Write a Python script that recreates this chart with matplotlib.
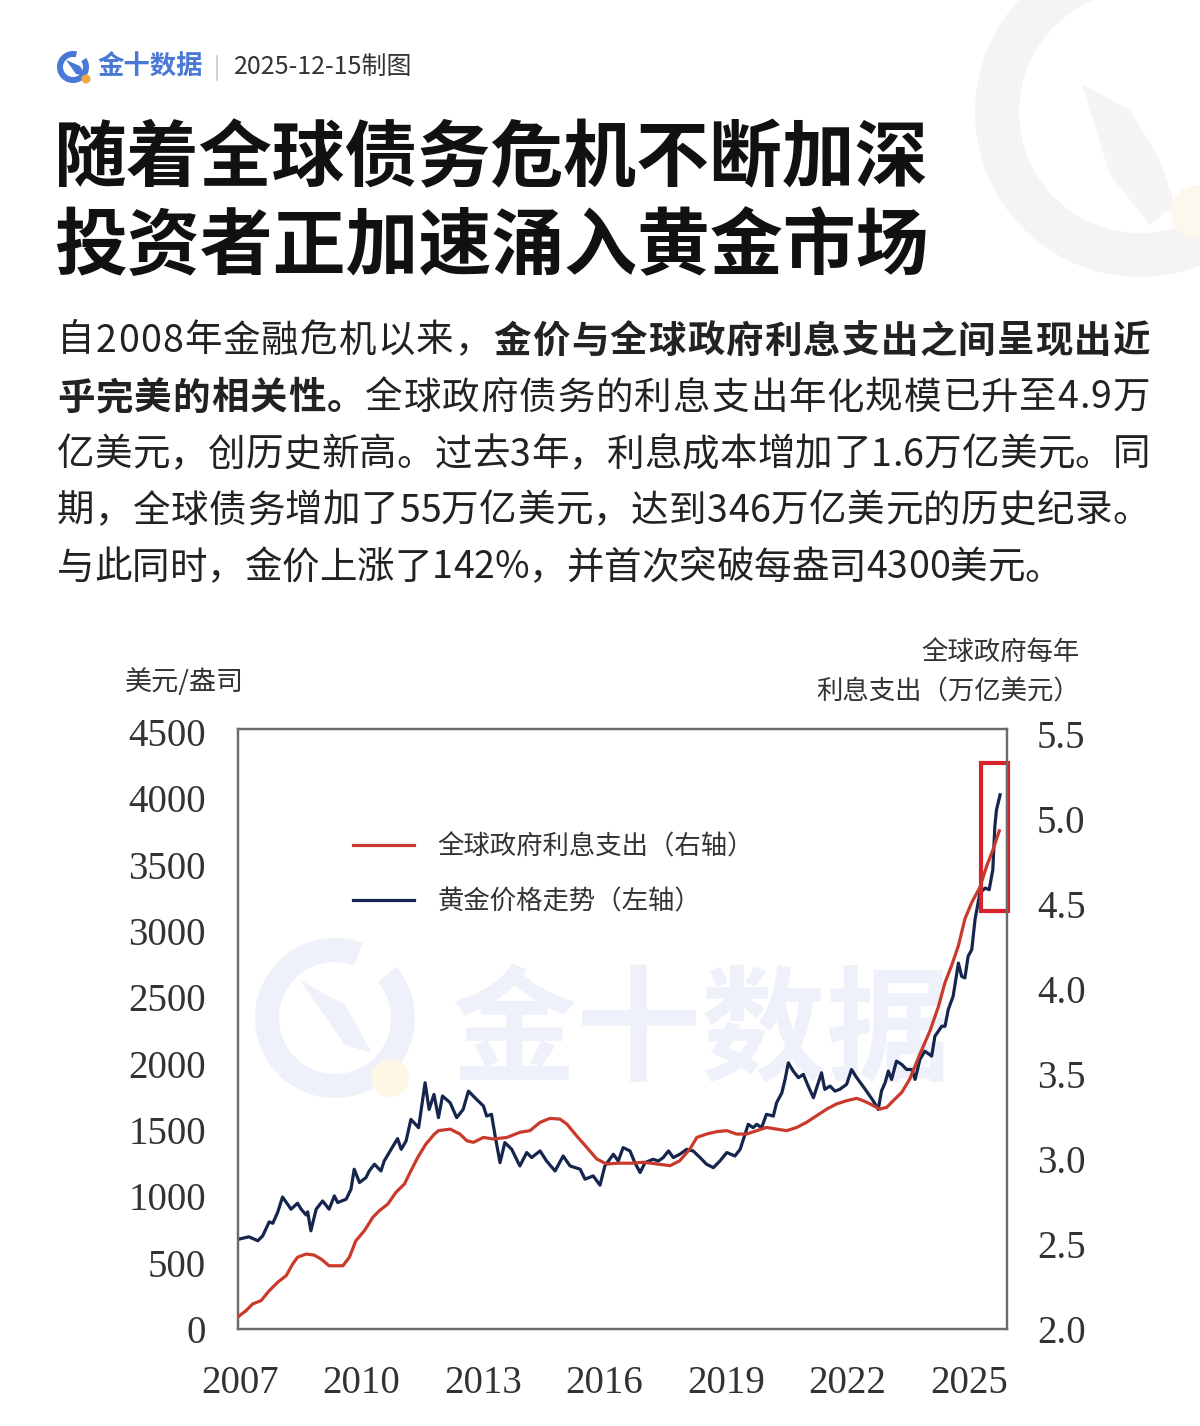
import numpy as np
import matplotlib
matplotlib.use('Agg')
import matplotlib.pyplot as plt
from matplotlib.patches import Wedge, Circle, Rectangle, Polygon

plt.rcParams['font.family'] = ['Noto Sans CJK SC', 'DejaVu Sans']

## gold price, USD/oz (left axis)
gold_years = [2006.97, 2007.22, 2007.44, 2007.56, 2007.72, 2007.81, 2007.93, 2008.05, 2008.26, 2008.42,
              2008.51, 2008.63, 2008.67, 2008.75, 2008.88, 2009.04, 2009.20, 2009.33, 2009.41, 2009.62,
              2009.74, 2009.82, 2009.95, 2010.11, 2010.19, 2010.32, 2010.48, 2010.56, 2010.73, 2010.89,
              2010.98, 2011.10, 2011.22, 2011.41, 2011.57, 2011.67, 2011.79, 2011.90, 2012.00, 2012.19,
              2012.35, 2012.51, 2012.64, 2012.84, 2013.01, 2013.09, 2013.21, 2013.30, 2013.42, 2013.54,
              2013.71, 2013.91, 2014.08, 2014.20, 2014.41, 2014.57, 2014.78, 2014.98, 2015.15, 2015.40,
              2015.52, 2015.72, 2015.89, 2016.01, 2016.22, 2016.34, 2016.46, 2016.63, 2016.75, 2016.88,
              2017.00, 2017.20, 2017.33, 2017.45, 2017.58, 2017.70, 2017.86, 2018.03, 2018.19, 2018.36,
              2018.52, 2018.69, 2018.85, 2019.02, 2019.22, 2019.35, 2019.47, 2019.55, 2019.67, 2019.76,
              2019.88, 2020.00, 2020.17, 2020.25, 2020.38, 2020.46, 2020.54, 2020.66, 2020.79, 2020.91,
              2021.03, 2021.16, 2021.28, 2021.36, 2021.44, 2021.57, 2021.69, 2021.81, 2021.98, 2022.10,
              2022.23, 2022.35, 2022.47, 2022.64, 2022.76, 2022.84, 2022.93, 2023.01, 2023.09, 2023.21,
              2023.34, 2023.46, 2023.59, 2023.67, 2023.79, 2023.91, 2024.08, 2024.16, 2024.33, 2024.41,
              2024.49, 2024.61, 2024.74, 2024.82, 2024.90, 2024.98, 2025.07, 2025.15, 2025.27, 2025.40,
              2025.50, 2025.59, 2025.64, 2025.68, 2025.77]
gold_price = [677, 695, 665, 702, 807, 797, 880, 995, 903, 948,
              903, 860, 883, 740, 903, 965, 903, 1003, 953, 978,
              1053, 1204, 1104, 1141, 1191, 1242, 1191, 1266, 1354, 1435,
              1354, 1417, 1580, 1517, 1856, 1655, 1768, 1593, 1756, 1705,
              1593, 1655, 1793, 1731, 1681, 1605, 1618, 1455, 1254, 1405,
              1354, 1229, 1330, 1292, 1342, 1266, 1191, 1304, 1229, 1204,
              1129, 1154, 1084, 1229, 1317, 1266, 1367, 1342, 1254, 1179,
              1254, 1279, 1266, 1292, 1342, 1292, 1317, 1354, 1342, 1292,
              1242, 1216, 1266, 1330, 1304, 1354, 1467, 1543, 1517, 1543,
              1517, 1618, 1605, 1705, 1780, 1881, 2006, 1944, 1894, 1919,
              1831, 1743, 1856, 1931, 1806, 1831, 1793, 1806, 1844, 1956,
              1894, 1844, 1793, 1718, 1655, 1793, 1856, 1944, 1881, 2019,
              1994, 1956, 1956, 1881, 2032, 2094, 2057, 2207, 2282, 2282,
              2408, 2508, 2758, 2658, 2646, 2809, 2859, 3085, 3286, 3323,
              3311, 3462, 3788, 3913, 4026]

## global government interest payments, trillion USD (right axis)
debt_years = [2006.97, 2007.15, 2007.31, 2007.52, 2007.72, 2007.93, 2008.14, 2008.30, 2008.42, 2008.63,
              2008.83, 2009.00, 2009.20, 2009.37, 2009.54, 2009.70, 2009.86, 2010.07, 2010.28, 2010.44,
              2010.65, 2010.85, 2011.06, 2011.22, 2011.39, 2011.59, 2011.80, 2011.90, 2012.19, 2012.43,
              2012.60, 2012.76, 2013.01, 2013.25, 2013.59, 2013.91, 2014.16, 2014.41, 2014.65, 2014.90,
              2015.07, 2015.31, 2015.56, 2015.81, 2016.05, 2016.38, 2016.63, 2016.96, 2017.29, 2017.62,
              2017.86, 2018.11, 2018.28, 2018.52, 2018.77, 2019.02, 2019.26, 2019.51, 2019.76, 2020.00,
              2020.25, 2020.50, 2020.75, 2020.99, 2021.24, 2021.49, 2021.73, 2021.98, 2022.23, 2022.39,
              2022.56, 2022.80, 2022.97, 2023.13, 2023.34, 2023.54, 2023.79, 2024.04, 2024.24, 2024.41,
              2024.57, 2024.74, 2024.90, 2025.07, 2025.27, 2025.44, 2025.60, 2025.75]
debt_interest = [2.075, 2.108, 2.147, 2.167, 2.225, 2.275, 2.314, 2.382, 2.422, 2.441,
                 2.435, 2.412, 2.372, 2.372, 2.372, 2.422, 2.519, 2.578, 2.657, 2.696,
                 2.735, 2.804, 2.853, 2.931, 3.010, 3.088, 3.147, 3.167, 3.176, 3.147,
                 3.108, 3.098, 3.127, 3.118, 3.127, 3.157, 3.167, 3.216, 3.239, 3.235,
                 3.206, 3.137, 3.069, 3.000, 2.971, 2.976, 2.975, 2.981, 2.971, 2.961,
                 2.990, 3.059, 3.127, 3.147, 3.161, 3.167, 3.147, 3.147, 3.167, 3.186,
                 3.176, 3.167, 3.186, 3.216, 3.255, 3.294, 3.324, 3.343, 3.357, 3.343,
                 3.324, 3.294, 3.304, 3.343, 3.392, 3.471, 3.618, 3.755, 3.892, 4.039,
                 4.137, 4.255, 4.412, 4.510, 4.598, 4.725, 4.824, 4.931]

left_ticks = [0, 500, 1000, 1500, 2000, 2500, 3000, 3500, 4000, 4500]
right_ticks = [2.0, 2.5, 3.0, 3.5, 4.0, 4.5, 5.0, 5.5]
year_ticks = [2007, 2010, 2013, 2016, 2019, 2022, 2025]

# highlight box around the latest months (years, USD/oz)
box_x0, box_x1 = 2025.30, 2025.96
box_y0, box_y1 = 3153, 4267

RED = '#c93a2c'
NAVY = '#15254d'
TXT = '#222222'

fig = plt.figure(figsize=(12, 14.26), dpi=100)

## background layer in pixel coordinates (decorations + text)
bg = fig.add_axes([0, 0, 1, 1])
bg.set_xlim(0, 1200)
bg.set_ylim(1426, 0)
bg.axis('off')

# faint big logo top right
bg.add_patch(Wedge((1140, 112), 165, -60, 255, width=44, color='#f4f4f4', lw=0))
bg.add_patch(Polygon([[1082, 84], [1130, 110], [1160, 160], [1175, 205], [1150, 225], [1110, 175]],
                     closed=True, color='#f5f5f5', lw=0))
bg.add_patch(Circle((1198, 212), 27, color='#fcf8ee', lw=0))

# small logo
bg.add_patch(Wedge((73, 67), 16, -35, 285, width=6, color='#4a78d6', lw=0))
bg.add_patch(Polygon([[66, 60], [80, 66], [86, 76], [76, 74]], closed=True, color='#4a78d6', lw=0))
bg.add_patch(Circle((86, 79), 4.5, color='#f0a83c', lw=0))
bg.text(97, 67, '金十数据', fontsize=19, fontweight='bold', color='#4a78d6', va='center', ha='left')
bg.plot([217, 217], [56, 80], color='#c8c8c8', lw=1.2)
bg.text(234, 67, '2025-12-15制图', fontsize=18, color='#333333', va='center', ha='left')

# title
bg.text(54, 160, '随着全球债务危机不断加深', fontsize=52.5, fontweight='heavy', color='#111111',
        va='center', ha='left')
bg.text(54, 248, '投资者正加速涌入黄金市场', fontsize=52.5, fontweight='heavy', color='#111111',
        va='center', ha='left')

# body paragraph, justified, with a bold run
renderer = fig.canvas.get_renderer()
body = [
    [('自2008年金融危机以来，', False), ('金价与全球政府利息支出之间呈现出近', True)],
    [('乎完美的相关性。', True), ('全球政府债务的利息支出年化规模已升至4.9万', False)],
    [('亿美元，创历史新高。过去3年，利息成本增加了1.6万亿美元。同', False)],
    [('期，全球债务增加了55万亿美元，达到346万亿美元的历史纪录。', False)],
    [('与此同时，金价上涨了142%，并首次突破每盎司4300美元。', False)],
]
line_y = [341, 398, 455, 511, 568]
body_size = 27
x_left, x_right = 57, 1150


def char_width(c, b):
    t = bg.text(0, 0, c, fontsize=body_size, fontweight='bold' if b else 'normal')
    w = t.get_window_extent(renderer).width
    t.remove()
    return w


for i, (runs, y) in enumerate(zip(body, line_y)):
    chars = [(c, b) for s, b in runs for c in s]
    widths = [char_width(c, b) for c, b in chars]
    extra = 0
    if i < len(body) - 1:
        extra = (x_right - x_left - sum(widths)) / (len(chars) - 1)
    x = x_left
    for (c, b), w in zip(chars, widths):
        bg.text(x, y, c, fontsize=body_size, fontweight='bold' if b else 'normal', color=TXT,
                va='center', ha='left')
        x += w + extra

# axis titles
bg.text(125, 682, '美元/盎司', fontsize=19.5, color='#333333', va='center', ha='left')
bg.text(1080, 653, '全球政府每年', fontsize=19, color='#333333', va='center', ha='right')
bg.text(1080, 692, '利息支出（万亿美元）', fontsize=19, color='#333333', va='center', ha='right')

# chart watermark
bg.add_patch(Wedge((335, 1018), 80, -40, 290, width=24, color='#eef1fa', lw=0))
bg.add_patch(Polygon([[300, 980], [345, 1005], [372, 1053], [345, 1045]], closed=True, color='#eef1fa', lw=0))
bg.add_patch(Circle((390, 1078), 19, color='#fdf7e6', lw=0))
bg.text(452, 1035, '金十数据', fontsize=90, fontweight='bold', color='#eef1fa', va='center', ha='left')

## chart
ax = fig.add_axes([238 / 1200, 1 - 1329 / 1426, 769 / 1200, 600 / 1426])
ax.set_facecolor('none')
ax.plot(gold_years, gold_price, color=NAVY, lw=2.3, label='黄金价格走势（左轴）', zorder=3)
ax.set_xlim(2006.95, 2025.94)
ax.set_ylim(0, 4522)

ax2 = ax.twinx()
ax2.plot(debt_years, debt_interest, color=RED, lw=2.3, label='全球政府利息支出（右轴）', zorder=3)
ax2.set_ylim(2.0, 5.53)

serif = 'Liberation Serif'
ax.set_xticks(year_ticks)
ax.set_xticklabels([str(y) for y in year_ticks], fontfamily=serif, fontsize=28, color='#333333')
ax.set_yticks(left_ticks)
ax.set_yticklabels([str(v) for v in left_ticks], fontfamily=serif, fontsize=28, color='#333333')
ax2.set_yticks(right_ticks)
ax2.set_yticklabels(['%.1f' % v for v in right_ticks], fontfamily=serif, fontsize=28, color='#333333')
ax.tick_params(axis='both', length=0)
ax.tick_params(axis='y', pad=23)
ax.tick_params(axis='x', pad=26)
ax2.tick_params(axis='y', length=0, pad=21.5)

for a in (ax, ax2):
    for sp in a.spines.values():
        sp.set_color('#6b6b6b')
        sp.set_linewidth(1.6)

ax.add_patch(Rectangle((box_x0, box_y0), box_x1 - box_x0, box_y1 - box_y0, fill=False,
                       edgecolor='#d8232a', lw=3, clip_on=False, zorder=5))

h1, l1 = ax2.get_legend_handles_labels()
h2, l2 = ax.get_legend_handles_labels()
leg = ax2.legend(h1 + h2, l1 + l2, loc='upper left', bbox_to_anchor=(0.1495, 0.826), frameon=False,
                 fontsize=19, handlelength=2.3, handletextpad=0.9, labelspacing=1.05, borderpad=0,
                 borderaxespad=0)
for t in leg.get_texts():
    t.set_color('#333333')

fig.savefig('out.png', dpi=100)
